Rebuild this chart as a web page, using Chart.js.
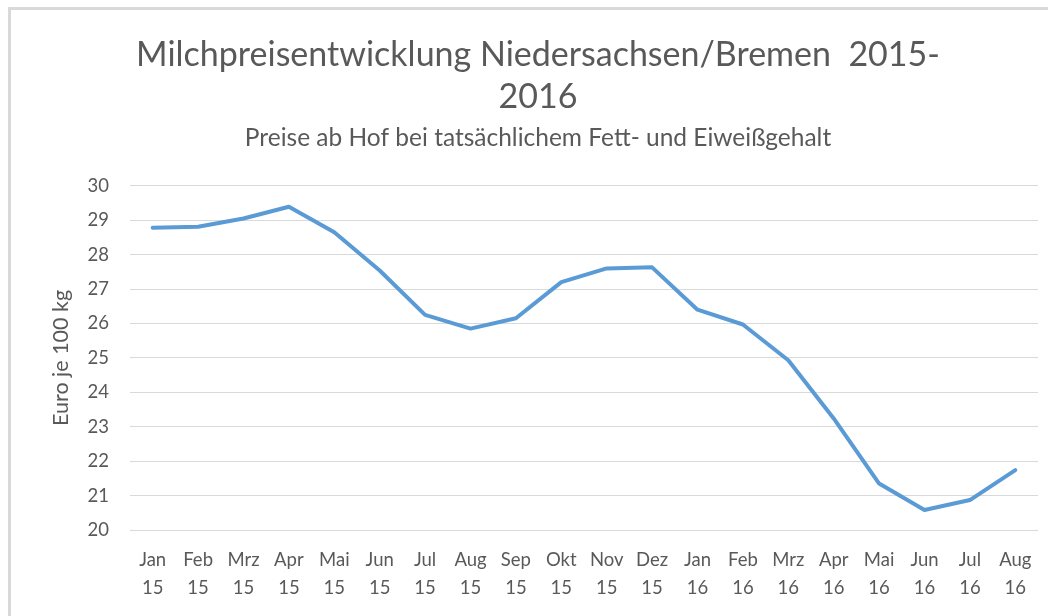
<!DOCTYPE html>
<html>
<head>
<meta charset="utf-8">
<script src="https://cdn.jsdelivr.net/npm/chart.js@4"></script>
<style>
  html, body { margin: 0; padding: 0; background: #fff; overflow: hidden; }
  #wrap { position: relative; width: 1048px; height: 616px; }
  #frame { position: absolute; left: 8px; top: 7px; width: 1100px; height: 700px;
           border-left: 3px solid #d9d9d9; border-top: 3px solid #d9d9d9; }
  canvas { position: absolute; left: 0; top: 0; }
</style>
</head>
<body>
<div id="wrap">
  <div id="frame"></div>
  <canvas id="chart" width="1048" height="616"></canvas>
</div>
<script>
const monate = ["Jan", "Feb", "Mrz", "Apr", "Mai", "Jun", "Jul", "Aug", "Sep", "Okt", "Nov", "Dez",
                "Jan", "Feb", "Mrz", "Apr", "Mai", "Jun", "Jul", "Aug"];
const jahre = ["15", "15", "15", "15", "15", "15", "15", "15", "15", "15", "15", "15",
               "16", "16", "16", "16", "16", "16", "16", "16"];
const preise = [28.78, 28.81, 29.05, 29.39, 28.65, 27.54, 26.25, 25.85, 26.15, 27.20, 27.60, 27.63,
                26.40, 25.97, 24.93, 23.24, 21.35, 20.58, 20.87, 21.74];

const grau = '#595959';
const schrift = 'Lato, "Open Sans", sans-serif';

const labels = monate.map((m, i) => [m, jahre[i]]);

new Chart(document.getElementById('chart'), {
  type: 'line',
  data: {
    labels: labels,
    datasets: [{
      label: 'Milchpreis',
      data: preise,
      borderColor: '#5B9BD5',
      borderWidth: 4,
      borderJoinStyle: 'round',
      borderCapStyle: 'round',
      pointRadius: 0,
      tension: 0,
      fill: false
    }]
  },
  options: {
    responsive: false,
    animation: false,
    layout: { padding: { top: 10, left: 38, right: 10, bottom: 0 } },
    plugins: {
      legend: { display: false },
      tooltip: { enabled: false },
      title: {
        display: true,
        text: ['Milchpreisentwicklung Niedersachsen/Bremen  2015-', '2016'],
        color: grau,
        font: { family: schrift, size: 34, weight: 'normal', lineHeight: 1.235 },
        padding: { top: 24, bottom: 9 }
      },
      subtitle: {
        display: true,
        text: 'Preise ab Hof bei tatsächlichem Fett- und Eiweißgehalt',
        color: grau,
        font: { family: schrift, size: 24.5, weight: 'normal', lineHeight: 0.93 },
        padding: { top: 0, bottom: 36 }
      }
    },
    scales: {
      x: {
        offset: true,
        grid: { display: false, drawTicks: false },
        border: { display: false },
        ticks: {
          color: grau,
          font: { family: schrift, size: 18.5, lineHeight: 1.5 },
          padding: 16,
          maxRotation: 0,
          autoSkip: false
        },
        afterFit: (scale) => { scale.height = 86; }
      },
      y: {
        min: 20,
        max: 30,
        grid: { color: '#d9d9d9', lineWidth: 1, drawTicks: false, tickLength: 0 },
        border: { display: false },
        ticks: {
          stepSize: 1,
          color: grau,
          font: { family: schrift, size: 18.5 },
          padding: 21
        },
        title: {
          display: true,
          text: 'Euro je 100 kg',
          color: grau,
          font: { family: schrift, size: 21.5, lineHeight: 1.06 },
          padding: { top: 12, bottom: 0 }
        },
        afterFit: (scale) => { scale.width = 92; }
      }
    }
  }
});
</script>
</body>
</html>
